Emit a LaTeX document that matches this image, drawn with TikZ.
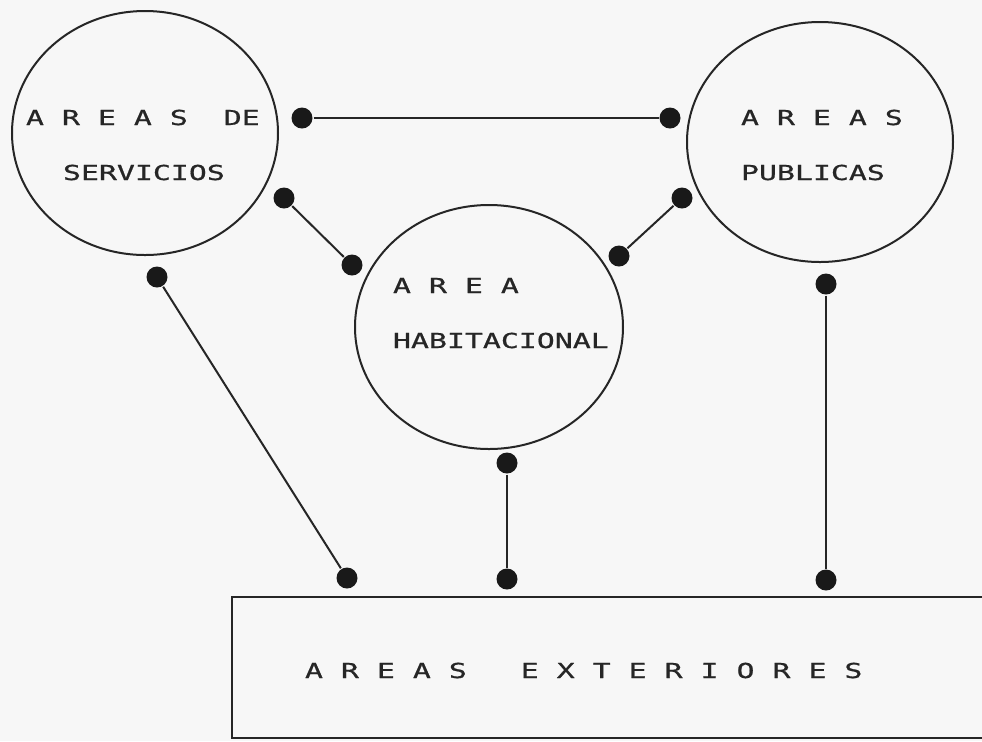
\documentclass[tikz,border=0pt]{standalone}
\usepackage{fontspec}
\newfontfamily\dotfont[FakeStretch=1.45,FakeBold=0.8,WordSpace={1,0,0}]{DejaVu Sans Mono}
\usetikzlibrary{shapes.geometric}

\begin{document}
\begin{tikzpicture}[x=0.5pt,y=-0.5pt,line width=1pt,color=black!85,
  zone/.style={draw, ellipse, inner sep=0pt},
  dot/.style={circle, fill=black!90, inner sep=0pt, minimum size=10.5pt},
  lbl/.style={anchor=base west, inner sep=0pt, font=\dotfont\fontsize{10.3}{12}\selectfont}]
  \useasboundingbox[fill=black!3] (0,0) rectangle (982,741);

  % Zones
  \node[zone, minimum width=133pt, minimum height=122pt] (serv) at (145,133) {};
  \node[zone, minimum width=133pt, minimum height=120pt] (pub) at (820,142) {};
  \node[zone, minimum width=134pt, minimum height=122pt] (hab) at (489,327) {};
  \draw (982,597) -- (232,597) -- (232,738) -- (982,738);

  % Labels
  \node[lbl] (servA) at (25,125) {A~R~E~A~S~~DE};
  \node[lbl] (servB) at (62,180) {SERVICIOS};
  \node[lbl] (pubA) at (740,125) {A~R~E~A~S};
  \node[lbl] (pubB) at (740,180) {PUBLICAS};
  \node[lbl] (habA) at (392,293) {A~R~E~A};
  \node[lbl] (habB) at (392,348) {HABITACIONAL};
  \node[lbl] (ext) at (304,678) {A~R~E~A~S~~~E~X~T~E~R~I~O~R~E~S};

  % Dots
  \node[dot] (s1) at (302,118) {};
  \node[dot] (s2) at (284,198) {};
  \node[dot] (s3) at (157,277) {};
  \node[dot] (p1) at (670,118) {};
  \node[dot] (p2) at (682,198) {};
  \node[dot] (p3) at (826,284) {};
  \node[dot] (h1) at (352,265) {};
  \node[dot] (h2) at (619,256) {};
  \node[dot] (h3) at (507,463) {};
  \node[dot] (e1) at (347,578) {};
  \node[dot] (e2) at (507,579) {};
  \node[dot] (e3) at (826,580) {};

  % Links
  \draw (s1) -- (p1);
  \draw (s2) -- (h1);
  \draw (p2) -- (h2);
  \draw (s3) -- (e1);
  \draw (h3) -- (e2);
  \draw (p3) -- (e3);
\end{tikzpicture}
\end{document}
